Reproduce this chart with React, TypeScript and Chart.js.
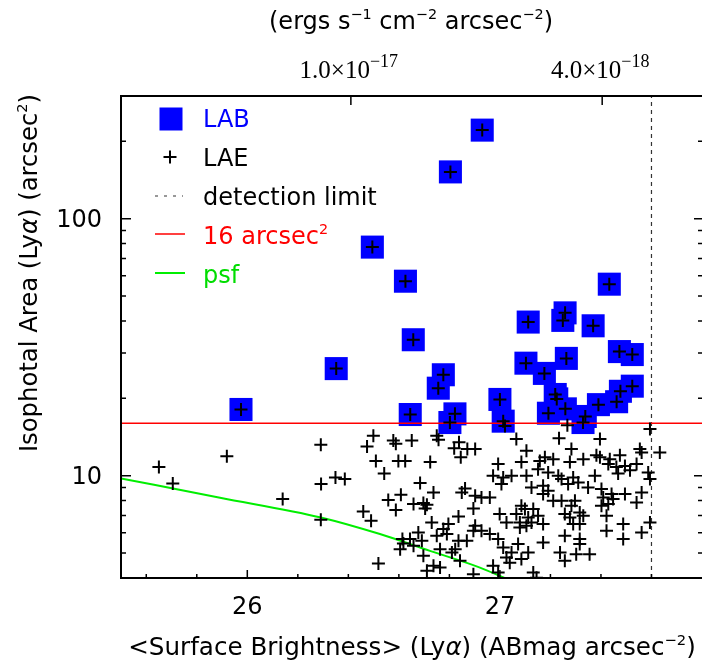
import React, { useEffect, useRef } from 'react';
import { Chart, registerables } from 'chart.js';

Chart.register(...registerables);

// ---------------- data ----------------
const labMag = [
  25.975, 26.352, 26.495, 26.626, 26.657, 26.645, 26.756, 26.776, 26.804, 26.930,
  26.802, 26.822, 27.000, 27.013, 27.103, 27.112, 27.176, 27.192, 27.219, 27.225,
  27.249, 27.258, 27.259, 27.263, 27.329, 27.338, 27.369, 27.390, 27.433, 27.462,
  27.473, 27.477, 27.524, 27.524,
];
const labArea = [
  18.1, 26.1, 77.5, 57.1, 33.8, 17.3, 21.9, 24.7, 152, 221,
  16.1, 17.4, 19.8, 16.3, 27.4, 39.6, 25.0, 17.5, 20.7, 19.9,
  40.2, 43.0, 18.2, 28.6, 16.1, 17.0, 38.3, 18.9, 55.6, 19.4,
  30.4, 21.3, 29.6, 22.3,
];

const laeMag = [
  25.650, 25.705, 25.919, 26.140, 26.291, 26.292, 26.291, 26.349, 26.386, 26.499,
  26.474, 26.509, 26.542, 26.578, 26.588, 26.598, 26.625, 26.558, 26.608, 26.588,
  26.459, 26.490, 26.519, 26.614, 26.605, 26.618,
  26.651, 26.750, 26.757, 26.838, 26.819, 26.871, 26.902, 26.845, 26.724, 26.684,
  26.737, 26.862, 26.849, 26.902, 26.658, 26.697, 26.711, 26.704, 26.895, 26.836,
  26.730, 26.796, 26.776, 26.902, 26.895, 26.677, 26.644, 26.691, 26.750, 26.790,
  26.836, 26.869, 26.658, 26.763, 26.823, 26.810, 26.697, 26.842, 26.737, 26.763,
  26.711, 26.895,
  27.065, 27.234, 27.105, 26.993, 27.085, 27.158, 27.178, 27.211, 27.151, 27.191,
  27.231, 26.973, 27.013, 27.046, 27.105, 27.006, 27.125, 27.171, 27.191, 27.171,
  27.211, 26.927, 26.960, 27.085, 27.099, 27.132, 26.999, 27.065, 27.112, 27.151,
  27.026, 27.079, 27.125, 27.171, 26.927, 27.079, 27.105, 26.960, 26.993, 27.171,
  27.072, 27.013, 27.046, 27.112, 27.026, 27.085, 27.039, 26.973, 26.993, 27.132,
  27.145, 27.238, 27.267, 27.020,
  27.396, 27.283, 27.277, 27.330, 27.382, 27.396, 27.435, 27.475, 27.429, 27.461,
  27.495, 27.468, 27.376, 27.244, 27.290, 27.270, 27.310, 27.349, 27.402, 27.442,
  27.495, 27.244, 27.297, 27.409, 27.429, 27.448, 27.283, 27.316, 27.402, 27.257,
  27.277, 27.330, 27.422, 27.290, 27.316, 27.488, 27.422, 27.257, 27.316, 27.488,
  27.316, 27.302, 27.355, 27.257,
  27.594, 27.554, 27.561, 27.633, 27.541, 27.515, 27.587, 27.594, 27.561, 27.541,
  27.594, 27.561,
];
const laeArea = [
  10.8, 9.33, 11.9, 8.11, 13.2, 9.28, 6.74, 9.85, 9.71, 14.3,
  13.0, 11.4, 10.2, 13.7, 13.3, 11.4, 11.4, 8.04, 8.43, 7.35,
  7.26, 6.68, 4.55, 5.67, 5.18, 5.45,
  13.7, 14.3, 13.8, 13.5, 12.8, 12.7, 12.7, 11.8, 11.3, 9.37,
  8.61, 8.92, 8.61, 8.36, 7.76, 7.83, 7.71, 7.46, 7.46, 6.94,
  6.58, 6.49, 6.20, 6.39, 6.11, 6.01, 5.67, 5.58, 5.84, 5.93,
  5.58, 5.58, 5.34, 5.18, 5.18, 5.03, 4.88, 4.67, 4.46, 4.39,
  4.27, 4.14,
  13.9, 14.0, 12.5, 11.1, 11.3, 11.4, 11.8, 11.6, 10.6, 10.3,
  10.0, 10.0, 9.85, 10.0, 10.0, 9.28, 9.00, 9.14, 8.74, 8.49,
  7.99, 8.23, 8.23, 7.64, 7.42, 7.42, 7.09, 7.09, 6.88, 6.98,
  6.58, 6.58, 6.58, 6.49, 6.11, 6.29, 6.39, 5.93, 5.67, 5.50,
  5.42, 5.26, 5.03, 5.03, 4.81, 4.74, 4.59, 4.46, 4.20, 4.20,
  4.01, 5.03, 15.7, 15.6,
  13.9, 12.7, 11.3, 11.6, 12.0, 11.8, 11.6, 12.0, 11.1, 10.8,
  10.9, 10.2, 10.0, 9.71, 9.85, 9.28, 9.42, 9.00, 8.87, 8.49,
  8.49, 7.99, 7.99, 8.23, 7.76, 8.11, 7.64, 7.19, 7.64, 7.09,
  6.88, 6.98, 6.98, 6.49, 6.49, 6.49, 6.11, 5.84, 5.67, 5.67,
  5.42, 4.95, 4.95, 4.67,
  15.2, 12.7, 12.3, 12.3, 11.1, 10.5, 10.3, 9.71, 8.61, 7.86,
  6.58, 6.01,
];

const psfMag = [25.5, 25.892, 26.291, 26.525, 26.723, 26.921, 27.018];
const psfArea = [9.76, 8.21, 6.88, 5.93, 5.10, 4.39, 4.0];

const detectionLimitMag = 27.6;
const areaThreshold = 16;

const xMin = 25.5;
const xMax = 27.8;
const yMin = 4;
const yMax = 300;

const xMajorTicks = [26, 27];
const xMinorTicks = [25.6, 25.8, 26.2, 26.4, 26.6, 26.8, 27.2, 27.4, 27.6];
const yMajorTicks = [10, 100];
const yMinorTicks = [5, 6, 7, 8, 9, 20, 30, 40, 50, 60, 70, 80, 90, 200];

const topTickFlux = [1.0e-17, 4.0e-18];
const topTickMantissa = ['1.0×10', '4.0×10'];
const topTickExp = ['−17', '−18'];
const fluxZeroPoint = 16.09; // mag = -2.5 log10(flux) - zp

// ---------------- drawing helpers ----------------
const SANS = '"DejaVu Sans", "Liberation Sans", sans-serif';
const SERIF = '"Liberation Serif", "DejaVu Serif", serif';

type Part = { t: string; sup?: boolean; italic?: boolean };

function drawRich(
  ctx: CanvasRenderingContext2D,
  parts: Part[],
  x: number,
  y: number,
  size: number,
  family: string,
  color: string,
  align: 'left' | 'center' | 'right',
  supScale = 0.6,
  supRaise = 0.42,
) {
  const fontOf = (p: Part) =>
    `${p.italic ? 'italic ' : ''}${p.sup ? size * supScale : size}px ${family}`;
  let total = 0;
  const widths = parts.map((p) => {
    ctx.font = fontOf(p);
    const w = ctx.measureText(p.t).width;
    total += w;
    return w;
  });
  let cx = align === 'left' ? x : align === 'center' ? x - total / 2 : x - total;
  ctx.fillStyle = color;
  ctx.textAlign = 'left';
  ctx.textBaseline = 'alphabetic';
  parts.forEach((p, i) => {
    ctx.font = fontOf(p);
    ctx.fillText(p.t, cx, p.sup ? y - size * supRaise : y);
    cx += widths[i];
  });
}

const decorPlugin = {
  id: 'decor',
  afterDraw(chart: any) {
    const ctx: CanvasRenderingContext2D = chart.ctx;
    const xs = chart.scales.x;
    const ys = chart.scales.y;
    const { left, right, top, bottom } = chart.chartArea;

    ctx.save();
    // frame
    ctx.strokeStyle = '#000';
    ctx.lineWidth = 2;
    ctx.beginPath();
    ctx.moveTo(right + 2, top);
    ctx.lineTo(left, top);
    ctx.lineTo(left, bottom);
    ctx.lineTo(right + 2, bottom);
    ctx.stroke();

    // ticks
    ctx.lineWidth = 1.5;
    ctx.beginPath();
    xMajorTicks.forEach((v) => {
      const p = xs.getPixelForValue(v);
      ctx.moveTo(p, bottom);
      ctx.lineTo(p, bottom - 8);
    });
    xMinorTicks.forEach((v) => {
      const p = xs.getPixelForValue(v);
      ctx.moveTo(p, bottom);
      ctx.lineTo(p, bottom - 4);
    });
    topTickFlux.forEach((f) => {
      const m = -2.5 * Math.log10(f) - fluxZeroPoint;
      const p = xs.getPixelForValue(m);
      ctx.moveTo(p, top);
      ctx.lineTo(p, top + 9);
    });
    yMajorTicks.forEach((v) => {
      const p = ys.getPixelForValue(v);
      ctx.moveTo(left, p);
      ctx.lineTo(left + 10, p);
      ctx.moveTo(right, p);
      ctx.lineTo(right - 8, p);
    });
    yMinorTicks.forEach((v) => {
      const p = ys.getPixelForValue(v);
      ctx.moveTo(left, p);
      ctx.lineTo(left + 5, p);
      ctx.moveTo(right, p);
      ctx.lineTo(right - 4, p);
    });
    ctx.stroke();

    // tick labels
    xMajorTicks.forEach((v) => {
      const p = xs.getPixelForValue(v);
      drawRich(ctx, [{ t: String(v) }], p, 614, 24, SANS, '#000', 'center');
    });
    yMajorTicks.forEach((v) => {
      const p = ys.getPixelForValue(v);
      drawRich(ctx, [{ t: String(v) }], 102, p + 8.5, 24, SANS, '#000', 'right');
    });
    topTickFlux.forEach((f, i) => {
      const m = -2.5 * Math.log10(f) - fluxZeroPoint;
      const p = xs.getPixelForValue(m);
      drawRich(
        ctx,
        [{ t: topTickMantissa[i] }, { t: topTickExp[i], sup: true }],
        p - 2,
        78,
        25,
        SERIF,
        '#000',
        'center',
        0.72,
        0.46,
      );
    });

    // axis titles
    drawRich(
      ctx,
      [
        { t: '<Surface Brightness> (Ly' },
        { t: 'α', italic: true },
        { t: ') (ABmag arcsec' },
        { t: '−2', sup: true },
        { t: ')' },
      ],
      412,
      655,
      24.6,
      SANS,
      '#000',
      'center',
    );
    drawRich(
      ctx,
      [
        { t: '(ergs s' },
        { t: '−1', sup: true },
        { t: ' cm' },
        { t: '−2', sup: true },
        { t: ' arcsec' },
        { t: '−2', sup: true },
        { t: ')' },
      ],
      411,
      29,
      24,
      SANS,
      '#000',
      'center',
    );
    ctx.save();
    ctx.translate(37, 273);
    ctx.rotate(-Math.PI / 2);
    drawRich(
      ctx,
      [
        { t: 'Isophotal Area (Ly' },
        { t: 'α', italic: true },
        { t: ') (arcsec' },
        { t: '2', sup: true },
        { t: ')' },
      ],
      0,
      0,
      24.3,
      SANS,
      '#000',
      'center',
    );
    ctx.restore();

    // legend
    const tx = 203;
    ctx.fillStyle = '#0000ff';
    ctx.fillRect(159.5, 107.5, 23, 23);
    drawRich(ctx, [{ t: 'LAB' }], tx, 127, 24, SANS, '#0000ff', 'left');

    ctx.strokeStyle = '#000';
    ctx.lineWidth = 2;
    ctx.beginPath();
    ctx.moveTo(163.5, 157);
    ctx.lineTo(176.5, 157);
    ctx.moveTo(170, 150.5);
    ctx.lineTo(170, 163.5);
    ctx.stroke();
    drawRich(ctx, [{ t: 'LAE' }], tx, 166, 24, SANS, '#000', 'left');

    ctx.lineWidth = 1.2;
    ctx.strokeStyle = '#333';
    ctx.setLineDash([3, 6]);
    ctx.beginPath();
    ctx.moveTo(155, 196);
    ctx.lineTo(183, 196);
    ctx.stroke();
    ctx.setLineDash([]);
    drawRich(ctx, [{ t: 'detection limit' }], tx, 205, 24, SANS, '#000', 'left');

    ctx.lineWidth = 1.5;
    ctx.strokeStyle = '#ff0000';
    ctx.beginPath();
    ctx.moveTo(155, 234);
    ctx.lineTo(185, 234);
    ctx.stroke();
    drawRich(
      ctx,
      [{ t: '16 arcsec' }, { t: '2', sup: true }],
      tx,
      244,
      24,
      SANS,
      '#ff0000',
      'left',
    );

    ctx.lineWidth = 2;
    ctx.strokeStyle = '#00ee00';
    ctx.beginPath();
    ctx.moveTo(155, 273);
    ctx.lineTo(185, 273);
    ctx.stroke();
    drawRich(ctx, [{ t: 'psf' }], tx, 283, 24, SANS, '#00dd00', 'left');

    ctx.restore();
  },
};

export default function App() {
  const canvasRef = useRef<HTMLCanvasElement | null>(null);

  useEffect(() => {
    const canvas = canvasRef.current;
    if (!canvas) return;

    const labPts = labMag.map((m, i) => ({ x: m, y: labArea[i] }));
    const laePts = laeMag
      .map((m, i) => ({ x: m, y: laeArea[i] }))
      .concat(labPts);
    const psfPts = psfMag.map((m, i) => ({ x: m, y: psfArea[i] }));

    const chart = new Chart(canvas, {
      type: 'scatter',
      data: {
        datasets: [
          {
            label: 'LAE',
            data: laePts,
            pointStyle: 'cross',
            pointRadius: 6.5,
            borderColor: '#000',
            backgroundColor: '#000',
            borderWidth: 2,
            order: 1,
          },
          {
            label: '16 arcsec2',
            data: [
              { x: xMin, y: areaThreshold },
              { x: xMax, y: areaThreshold },
            ],
            showLine: true,
            borderColor: '#ff0000',
            borderWidth: 1.6,
            pointRadius: 0,
            order: 2,
          },
          {
            label: 'detection limit',
            data: [
              { x: detectionLimitMag, y: yMin },
              { x: detectionLimitMag, y: yMax },
            ],
            showLine: true,
            borderColor: '#333',
            borderWidth: 1.2,
            borderDash: [4, 4],
            pointRadius: 0,
            order: 3,
          },
          {
            label: 'psf',
            data: psfPts,
            showLine: true,
            borderColor: '#00ee00',
            borderWidth: 2,
            pointRadius: 0,
            cubicInterpolationMode: 'monotone',
            order: 4,
          },
          {
            label: 'LAB',
            data: labPts,
            pointStyle: 'rect',
            pointRadius: 16.3,
            backgroundColor: '#0000ff',
            borderColor: '#0000ff',
            borderWidth: 0,
            order: 5,
          },
        ],
      },
      options: {
        animation: false,
        responsive: false,
        devicePixelRatio: 1,
        events: [],
        layout: {
          autoPadding: false,
          padding: { left: 121, right: 0, top: 96, bottom: 83 },
        },
        plugins: {
          legend: { display: false },
          tooltip: { enabled: false },
          title: { display: false },
        },
        scales: {
          x: { type: 'linear', min: xMin, max: xMax, display: false },
          y: { type: 'logarithmic', min: yMin, max: yMax, display: false },
        },
      },
      plugins: [decorPlugin],
    } as any);

    return () => {
      chart.destroy();
    };
  }, []);

  return (
    <div
      style={{
        position: 'absolute',
        left: 0,
        top: 0,
        width: 702,
        height: 661,
        background: '#fff',
      }}
    >
      <canvas
        ref={canvasRef}
        width={702}
        height={661}
        style={{ display: 'block', width: 702, height: 661 }}
      />
    </div>
  );
}
